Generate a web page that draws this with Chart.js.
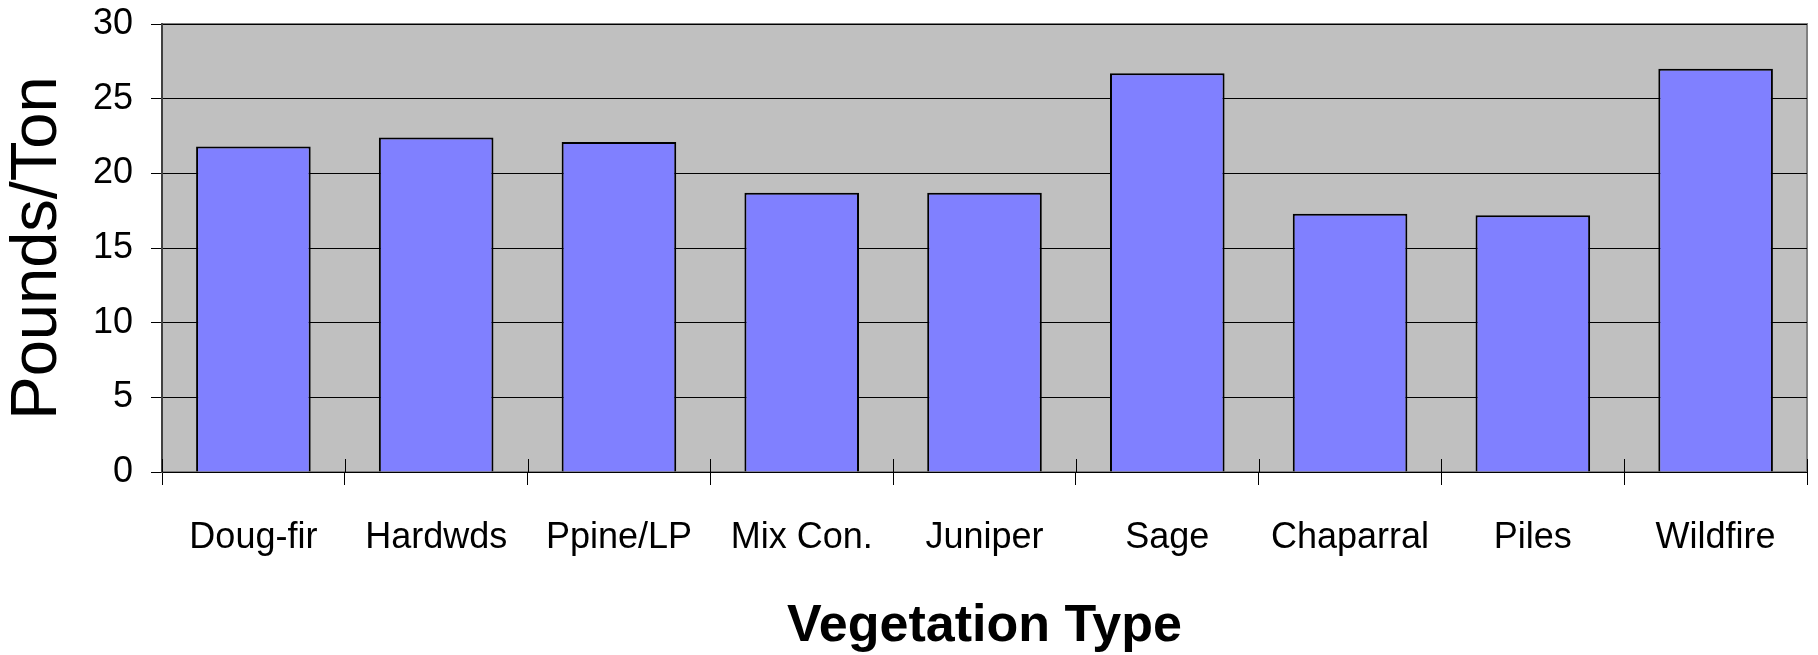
<!DOCTYPE html>
<html lang="en">
  <head>
    <meta charset="UTF-8" />
    <title>Pounds/Ton by Vegetation Type</title>
    <script src="https://cdn.jsdelivr.net/npm/chart.js"></script>
    <style>
      body {
        margin: 0;
        background: #fff;
      }
      #wrap {
        width: 1818px;
        height: 655px;
      }
    </style>
  </head>
  <body>
    <div id="wrap">
      <canvas id="chart" width="1818" height="655"></canvas>
    </div>

    <script>
      const categories = ['Doug-fir', 'Hardwds', 'Ppine/LP', 'Mix Con.', 'Juniper', 'Sage', 'Chaparral', 'Piles', 'Wildfire'];
      const poundsPerTon = [21.8, 22.4, 22.1, 18.7, 18.7, 26.7, 17.3, 17.2, 27.0];
      const yTicks = [0, 5, 10, 15, 20, 25, 30];

      const sans = '"Liberation Sans", Arial, sans-serif';

      // grey plot area with a thin grey frame, like the old spreadsheet charts
      const plotBackground = {
        id: 'plotBackground',
        beforeDraw(chart) {
          const { ctx, chartArea: a } = chart;
          ctx.save();
          ctx.fillStyle = '#c0c0c0';
          ctx.fillRect(a.left, a.top, a.right - a.left, a.bottom - a.top);
          ctx.strokeStyle = '#808080';
          ctx.lineWidth = 2;
          ctx.strokeRect(a.left, a.top, a.right - a.left, a.bottom - a.top);
          ctx.restore();
        },
        afterDatasetsDraw(chart) {
          // category tick marks also poke up into the plot a little
          const { ctx, chartArea: a, scales } = chart;
          const x = scales.x;
          ctx.save();
          ctx.strokeStyle = '#000';
          ctx.lineWidth = 1;
          for (let i = 0; i <= categories.length; i++) {
            const px = Math.round(x.getPixelForValue(i - 0.5)) + 0.5;
            ctx.beginPath();
            ctx.moveTo(px, a.bottom - 13);
            ctx.lineTo(px, a.bottom);
            ctx.stroke();
          }
          ctx.restore();
        },
      };

      new Chart(document.getElementById('chart'), {
        type: 'bar',
        data: {
          labels: categories,
          datasets: [
            {
              label: 'Pounds/Ton',
              data: poundsPerTon,
              backgroundColor: '#8080ff',
              borderColor: '#000',
              borderWidth: 2,
              barPercentage: 0.627,
              categoryPercentage: 1,
            },
          ],
        },
        options: {
          responsive: false,
          animation: false,
          layout: { padding: { top: 24, right: 11, left: 0, bottom: 0 } },
          plugins: {
            legend: { display: false },
            tooltip: { enabled: false },
          },
          scales: {
            x: {
              offset: true,
              grid: {
                offset: true,
                drawOnChartArea: false,
                drawTicks: true,
                tickLength: 13,
                color: '#000',
              },
              border: { color: '#000', width: 1 },
              ticks: {
                color: '#000',
                padding: 31,
                autoSkip: false,
                maxRotation: 0,
                font: { family: sans, size: 36 },
              },
              title: {
                display: true,
                text: 'Vegetation Type',
                color: '#000',
                font: { family: sans, size: 52, weight: 'bold', lineHeight: 1.1 },
                padding: 0,
              },
              afterFit(scale) {
                scale.height = 183;
                scale.paddingLeft = 0;
                scale.paddingRight = 0;
              },
            },
            y: {
              min: 0,
              max: 30,
              afterBuildTicks(scale) {
                scale.ticks = yTicks.map((v) => ({ value: v }));
              },
              grid: {
                color: '#000',
                lineWidth: 1,
                drawTicks: true,
                tickLength: 11,
              },
              border: { color: '#404040', width: 2 },
              ticks: {
                color: '#000',
                padding: 18,
                font: { family: sans, size: 36 },
              },
              title: {
                display: true,
                text: 'Pounds/Ton',
                color: '#000',
                font: { family: sans, size: 65, lineHeight: 1.1 },
                padding: { top: 2, bottom: 0 },
              },
              afterFit(scale) {
                scale.width = 162;
                scale.paddingTop = 0;
                scale.paddingBottom = 0;
              },
            },
          },
        },
        plugins: [plotBackground],
      });
    </script>
  </body>
</html>
